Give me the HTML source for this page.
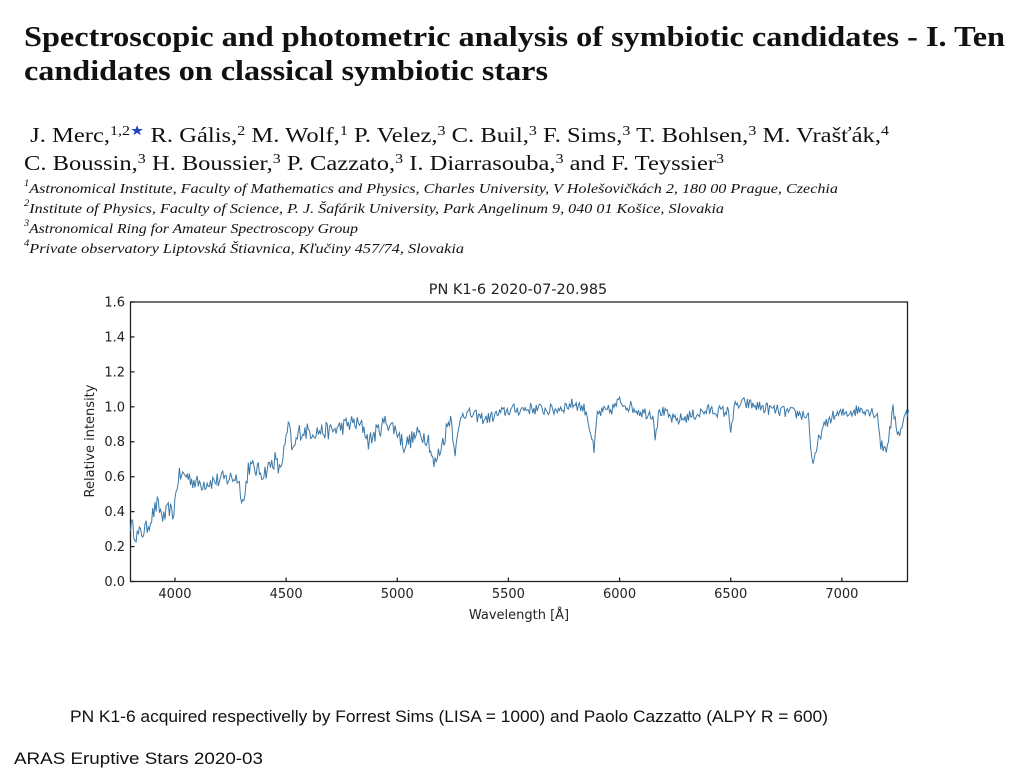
<!DOCTYPE html>
<html><head><meta charset="utf-8"><style>
body{margin:0;background:#fff;width:1024px;height:781px;overflow:hidden;position:relative}
.t{position:absolute;white-space:nowrap;color:#111;transform-origin:0 0}
.ti{font-family:"Liberation Serif",serif;font-weight:bold;font-size:29px;left:24px}
.au{font-family:"Liberation Serif",serif;font-size:21px;left:24px}
.af{font-family:"Liberation Serif",serif;font-style:italic;font-size:14px;left:24px}
sup{font-size:65%;vertical-align:7px;line-height:0}
.s{font-family:"Liberation Sans",sans-serif}
</style></head><body>
<div class="t ti" id="e0" style="top:21px">Spectroscopic and photometric analysis of symbiotic candidates - I. Ten</div>
<div class="t ti" id="e1" style="top:55px">candidates on classical symbiotic stars</div>
<div class="t au" id="e2" style="top:123px">&nbsp;J. Merc,<sup>1,2<span style="color:#2040c0">★</span></sup> R. Gális,<sup>2</sup> M. Wolf,<sup>1</sup> P. Velez,<sup>3</sup> C. Buil,<sup>3</sup> F. Sims,<sup>3</sup> T. Bohlsen,<sup>3</sup> M. Vrašťák,<sup>4</sup></div>
<div class="t au" id="e3" style="top:151px">C. Boussin,<sup>3</sup> H. Boussier,<sup>3</sup> P. Cazzato,<sup>3</sup> I. Diarrasouba,<sup>3</sup> and F. Teyssier<sup>3</sup></div>
<div class="t af" id="e4" style="top:182px"><sup>1</sup>Astronomical Institute, Faculty of Mathematics and Physics, Charles University, V Holešovičkách 2, 180 00 Prague, Czechia</div>
<div class="t af" id="e5" style="top:202px"><sup>2</sup>Institute of Physics, Faculty of Science, P. J. Šafárik University, Park Angelinum 9, 040 01 Košice, Slovakia</div>
<div class="t af" id="e6" style="top:222px"><sup>3</sup>Astronomical Ring for Amateur Spectroscopy Group</div>
<div class="t af" id="e7" style="top:242px"><sup>4</sup>Private observatory Liptovská Štiavnica, Kľučiny 457/74, Slovakia</div>
<svg width="1024" height="781" style="position:absolute;left:0;top:0" font-family="DejaVu Sans,sans-serif">
<text x="518" y="294" font-size="14.5" text-anchor="middle" fill="#222">PN K1-6  2020-07-20.985</text>
<g id="ax" stroke="#222" stroke-width="1.3" fill="none"><rect x="130.5" y="302" width="777" height="279.5"/></g>
<g font-size="13" fill="#222" text-anchor="end" id="yl"></g>
<g font-size="13" fill="#222" text-anchor="middle" id="xl"></g>
<text transform="translate(94,441) rotate(-90)" font-size="13" text-anchor="middle" fill="#222">Relative intensity</text>
<text x="519" y="619" font-size="13" text-anchor="middle" fill="#222">Wavelength [Å]</text>
<path id="sp" fill="none" stroke="#3a78a8" stroke-width="1"/>
</svg>
<div class="t s" id="e8" style="top:707px;left:70px;font-size:17px">PN K1-6 acquired respectivelly by Forrest Sims (LISA = 1000) and Paolo Cazzatto (ALPY R = 600)</div>
<div class="t s" id="e9" style="top:749px;left:14px;font-size:17px">ARAS Eruptive Stars 2020-03</div>
<script>
var tw=[981,524,865,700,814,700,334,440,758,249];
for(var i=0;i<tw.length;i++){var e=document.getElementById("e"+i);var w=e.getBoundingClientRect().width;e.style.transform="scaleX("+(tw[i]/w)+")";}
var NS="http://www.w3.org/2000/svg";
function X(w){return 130.5+(w-3800)*0.2223}
function Y(v){return 581.5-174.7*v}
var yl=document.getElementById("yl"),xl=document.getElementById("xl"),ax=document.getElementById("ax");
for(var i=0;i<=8;i++){var v=i*0.2,y=Y(v);var t=document.createElementNS(NS,"text");t.setAttribute("x",125);t.setAttribute("y",y+4.5);t.textContent=v.toFixed(1);yl.appendChild(t);
var l=document.createElementNS(NS,"line");l.setAttribute("x1",130.5);l.setAttribute("x2",134.5);l.setAttribute("y1",y);l.setAttribute("y2",y);ax.appendChild(l);}
for(var w=4000;w<=7000;w+=500){var x=X(w);var t=document.createElementNS(NS,"text");t.setAttribute("x",x);t.setAttribute("y",598);t.textContent=w;xl.appendChild(t);
var l=document.createElementNS(NS,"line");l.setAttribute("x1",x);l.setAttribute("x2",x);l.setAttribute("y1",581.5);l.setAttribute("y2",577.5);ax.appendChild(l);}
var K=[[3800,.33],[3830,.26],[3870,.3],[3920,.44],[3950,.36],[3975,.42],[3990,.37],[4015,.6],[4050,.61],[4100,.56],[4200,.58],[4280,.6],[4300,.5],[4310,.45],[4330,.66],[4400,.62],[4450,.7],[4470,.63],[4500,.8],[4510,.9],[4530,.74],[4560,.86],[4700,.86],[4800,.91],[4850,.88],[4870,.8],[4950,.92],[5000,.86],[5030,.78],[5100,.85],[5140,.82],[5165,.66],[5200,.78],[5240,.95],[5262,.74],[5290,.97],[5400,.93],[5500,.98],[5600,.99],[5700,.98],[5800,1.02],[5850,.98],[5875,.82],[5885,.73],[5900,.96],[5960,.98],[6000,1.03],[6100,.97],[6150,.96],[6160,.84],[6180,.98],[6250,.92],[6400,.98],[6490,.97],[6500,.88],[6520,1.0],[6560,1.02],[6700,.98],[6800,.96],[6850,.95],[6865,.7],[6875,.67],[6900,.84],[6950,.94],[7000,.96],[7100,.99],[7160,.96],[7175,.78],[7200,.76],[7215,.86],[7230,.98],[7255,.84],[7280,.93],[7300,.98]];
function base(w){for(var i=0;i<K.length-1;i++){if(w<=K[i+1][0]){var a=K[i],b=K[i+1];return a[1]+(b[1]-a[1])*(w-a[0])/(b[0]-a[0]);}}return K[K.length-1][1]}
var s=12345;function r(){s=(s*16807)%2147483647;return s/2147483647}
var d="";
for(var w=3800;w<=7300;w+=5){var amp=w<5300?0.05:0.035;var n=(r()-0.5)*2*amp;var v=base(w)+n;d+=(d?"L":"M")+X(w).toFixed(1)+","+Y(v).toFixed(1);}
document.getElementById("sp").setAttribute("d",d);
</script>
</body></html>
